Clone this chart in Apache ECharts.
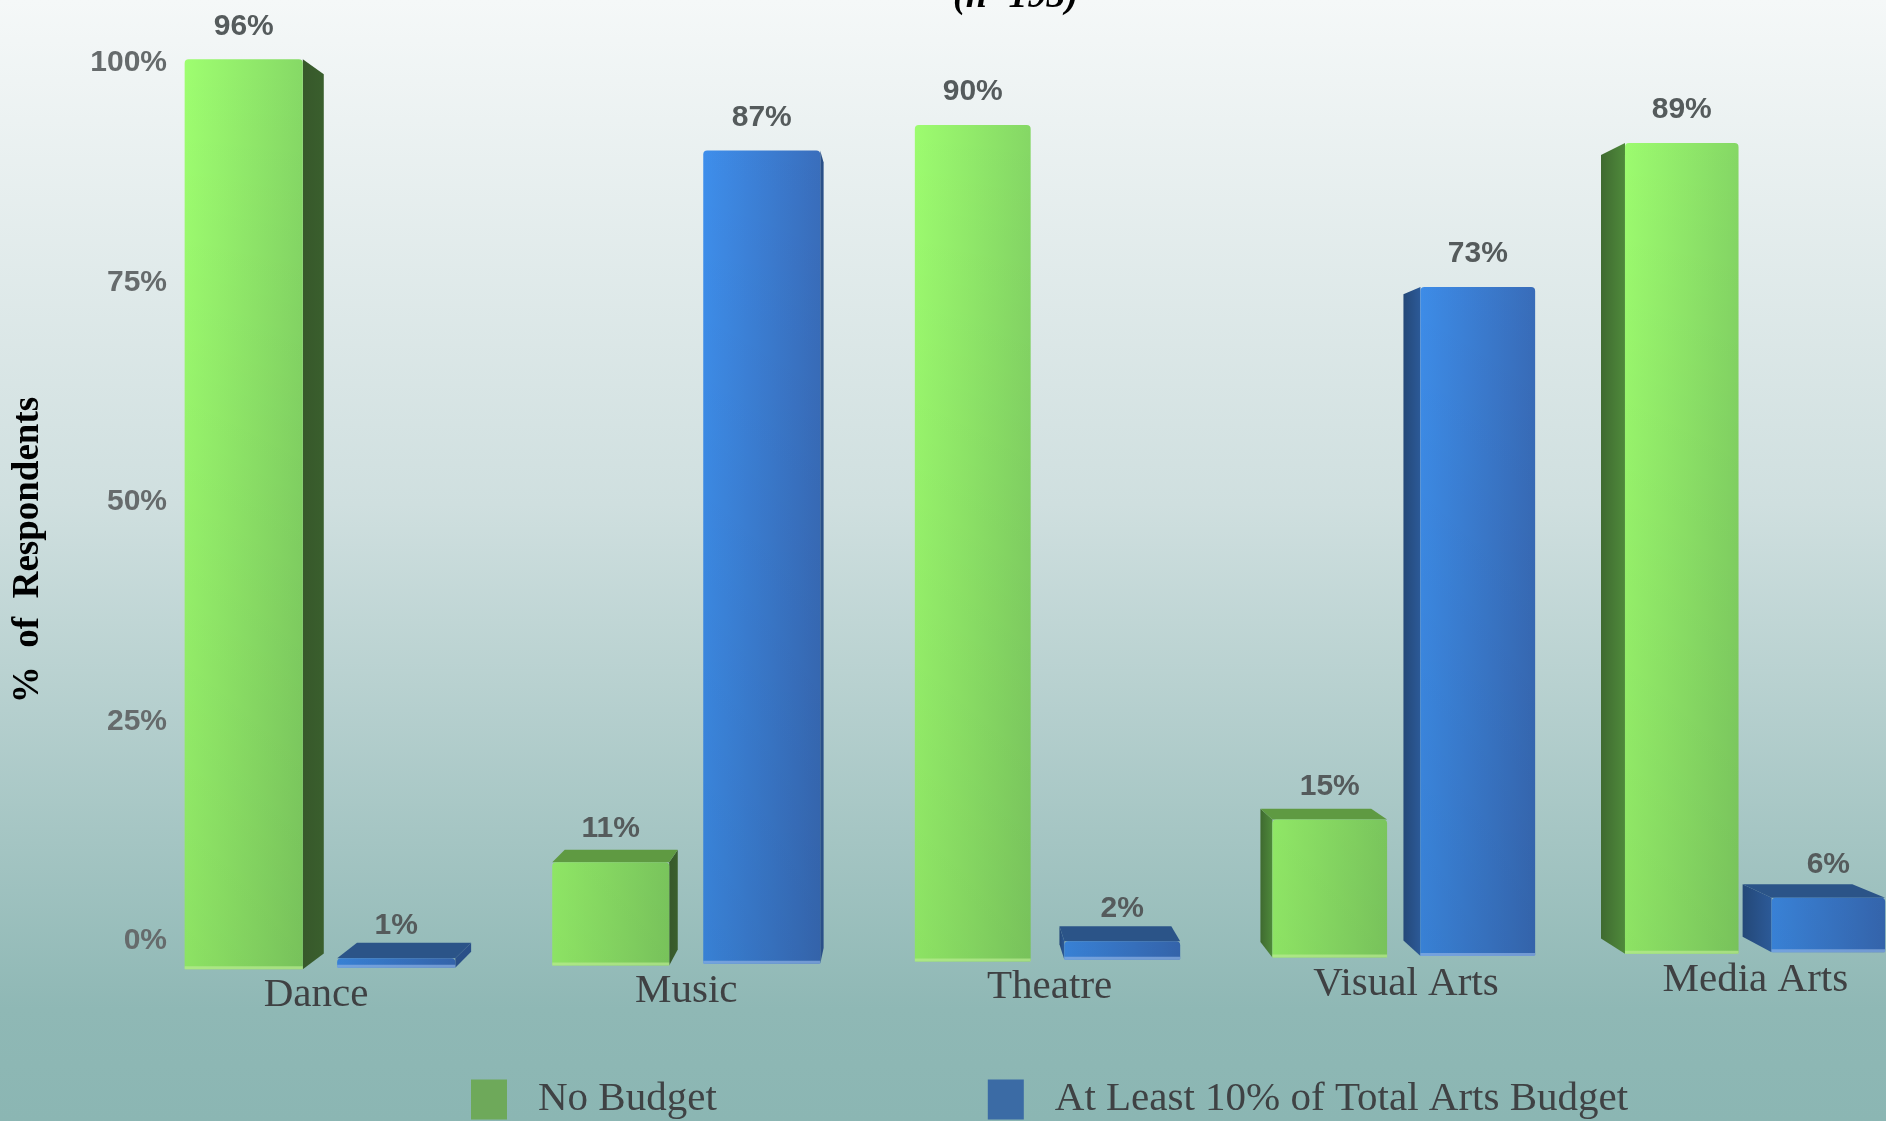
<!DOCTYPE html>
<html><head><meta charset="utf-8">
<style>html,body{margin:0;padding:0;background:#8db8b5}#c{width:1886px;height:1121px}</style>
<script src="https://cdn.jsdelivr.net/npm/echarts@6/dist/echarts.min.js"></script>
</head><body><div id="c"></div>
<script>
const categories = ['Dance', 'Music', 'Theatre', 'Visual Arts', 'Media Arts'];
const noBudget = [96, 11, 90, 15, 89];
const atLeast10 = [1, 87, 2, 73, 6];
const yTicks = [0, 25, 50, 75, 100];
const seriesNames = ['No Budget', 'At Least 10% of Total Arts Budget'];
const chartNote = '(n=193)';
const yTitle = '%  of  Respondents';

const chart = echarts.init(document.getElementById('c'), null, {renderer: 'canvas'});
const G = echarts.graphic;

// perspective of the tilted chart plane
const VP = [920, 500], DEPTH = 0.034;
const warpX = x => x + 1.94e-5 * (x - 320) * (1755 - x);
const shrink = x => 1 - (x - 242) * 2.7e-5;
const tilt = x => (x - 183) * 0.0108;
const back = p => [p[0] + (VP[0] - p[0]) * DEPTH, p[1] + (VP[1] - p[1]) * DEPTH];

const palettes = [
  {l: '#9efe70', r: '#86d966', side: ['#37582b', '#3a5f2d'], sideL: ['#4f8a3b', '#3f6a30'], top: '#5f9a42', edge: '#b9ea93'},
  {l: '#3f90ee', r: '#3a6fbe', side: ['#2a5088', '#2a5088'], sideL: ['#2c5a98', '#244878'], top: '#2b5488', edge: '#8db0e2'}
];

function makeRender(seriesPos) {
  return function (params, api) {
    const i = api.value(0), v = api.value(1);
    const pal = palettes[seriesPos];
    const band = api.size([1, 0])[0];
    const c = api.coord([i, 0])[0];
    const baseY = api.coord([i, 0])[1];
    const unitTop = api.coord([i, v])[1];
    const center = warpX(c);
    const s = shrink(center);
    const off = (seriesPos === 0 ? -1 : 1) * band * 0.213 * s;
    const cx = center + off;
    const hw = band * 0.165 * s;
    const x0 = cx - hw, x1 = cx + hw;
    const yB = baseY - tilt(cx);
    const yT = yB - (baseY - unitTop) * shrink(cx);
    const tl = [x0, yT], tr = [x1, yT], bl = [x0, yB], br = [x1, yB];
    const kids = [];
    const poly = (pts, fill) => kids.push({type: 'polygon', shape: {points: pts}, style: {fill}});
    if (x1 < VP[0]) {
      poly([tr, back(tr), back(br), br], new G.LinearGradient(0, 0, 1, 0, [{offset: 0, color: pal.side[0]}, {offset: 1, color: pal.side[1]}]));
    }
    if (x0 > VP[0]) {
      poly([tl, back(tl), back(bl), bl], new G.LinearGradient(1, 0, 0, 0, [{offset: 0, color: pal.sideL[0]}, {offset: 1, color: pal.sideL[1]}]));
    }
    if (yT > VP[1]) {
      poly([tl, back(tl), back(tr), tr], pal.top);
    }
    const r = [4, 4, 1, 1];
    kids.push({type: 'rect', shape: {x: x0, y: yT, width: x1 - x0, height: yB - yT, r},
      style: {fill: new G.LinearGradient(0, 0, 1, 0, [{offset: 0, color: pal.l}, {offset: 1, color: pal.r}])}});
    kids.push({type: 'rect', shape: {x: x0, y: yT, width: x1 - x0, height: yB - yT, r},
      style: {fill: new G.LinearGradient(0, 60, 0, 970, [{offset: 0, color: 'rgba(0,0,0,0)'}, {offset: 1, color: 'rgba(0,0,0,0.11)'}], true)}});
    kids.push({type: 'rect', shape: {x: x0, y: yB - 3, width: x1 - x0, height: 3}, style: {fill: pal.edge, opacity: 0.7}});
    kids.push({type: 'text', style: {text: v + '%', x: cx, y: yT - 33, align: 'center', verticalAlign: 'middle',
      font: 'bold 30px "Liberation Sans", Arial, sans-serif', fill: '#555b5c'}});
    return {type: 'group', children: kids};
  };
}

function renderCategoryLabels(params, api) {
  const i = api.value(0);
  const raw = api.coord([i, 0])[0];
  const c = warpX(raw);
  const y = api.coord([i, 0])[1] - tilt(c) + 27;
  const x = c - 4 + (raw - 320) * 0.003 + (c - raw) * 0.4;
  return {type: 'text', style: {text: categories[i], x, y, align: 'center', verticalAlign: 'middle',
    font: '41px "Liberation Serif", "Times New Roman", serif', fill: '#3f4143'}};
}

chart.setOption({
  animation: false,
  backgroundColor: new G.LinearGradient(0, 0, 0, 1, [
    {offset: 0, color: '#f5f8f8'}, {offset: 0.45, color: '#cfdfdf'},
    {offset: 0.9, color: '#8fb8b5'}, {offset: 1, color: '#8bb6b3'}]),
  graphic: [{type: 'text', left: 953, top: -22, style: {
    text: chartNote, font: 'italic bold 38px "Liberation Serif", serif', fill: '#000'}}],
  grid: [
    {left: 172, width: 1714, top: 63, height: 878},
    {left: 140.6, width: 1745.4, top: 22, height: 948}
  ],
  xAxis: [
    {gridIndex: 0, type: 'category', data: categories, show: false},
    {gridIndex: 1, type: 'value', min: -0.5, max: 4.365, show: false}
  ],
  yAxis: [
    {gridIndex: 0, type: 'value', min: yTicks[0], max: yTicks[yTicks.length - 1], interval: 25,
      name: yTitle, nameLocation: 'middle', nameRotate: 90, nameGap: 125,
      nameTextStyle: {fontFamily: '"Liberation Serif", serif', fontWeight: 'bold', fontSize: 37, color: '#000', padding: [0, 96, 0, 0]},
      axisLine: {show: false}, axisTick: {show: false}, splitLine: {show: false},
      axisLabel: {formatter: '{value}%', margin: 5, fontFamily: '"Liberation Sans", sans-serif', fontWeight: 'bold', fontSize: 30, color: '#666b6c'}},
    {gridIndex: 1, type: 'value', min: 0, max: 100, show: false}
  ],
  legend: {
    left: 471, top: 1079, itemWidth: 36, itemHeight: 40, itemGap: 271, icon: 'rect', padding: 0,
    selectedMode: false,
    textStyle: {fontFamily: '"Liberation Serif", serif', fontSize: 41, color: '#3f4244', padding: [0, 0, 0, 26]},
    data: [
      {name: seriesNames[0], itemStyle: {color: '#6ea95a'}},
      {name: seriesNames[1], itemStyle: {color: '#3b6ba5'}}
    ]
  },
  series: [
    {name: seriesNames[0], type: 'custom', xAxisIndex: 1, yAxisIndex: 1, clip: false, renderItem: makeRender(0),
      itemStyle: {color: '#6ea95a'}, data: noBudget.map((v, i) => [i, v]), z: 2},
    {name: seriesNames[1], type: 'custom', xAxisIndex: 1, yAxisIndex: 1, clip: false, renderItem: makeRender(1),
      itemStyle: {color: '#3b6ba5'}, data: atLeast10.map((v, i) => [i, v]), z: 3},
    {name: 'categories', type: 'custom', xAxisIndex: 1, yAxisIndex: 1, clip: false, renderItem: renderCategoryLabels,
      data: categories.map((c, i) => [i, 0]), z: 4}
  ]
});
</script></body></html>
